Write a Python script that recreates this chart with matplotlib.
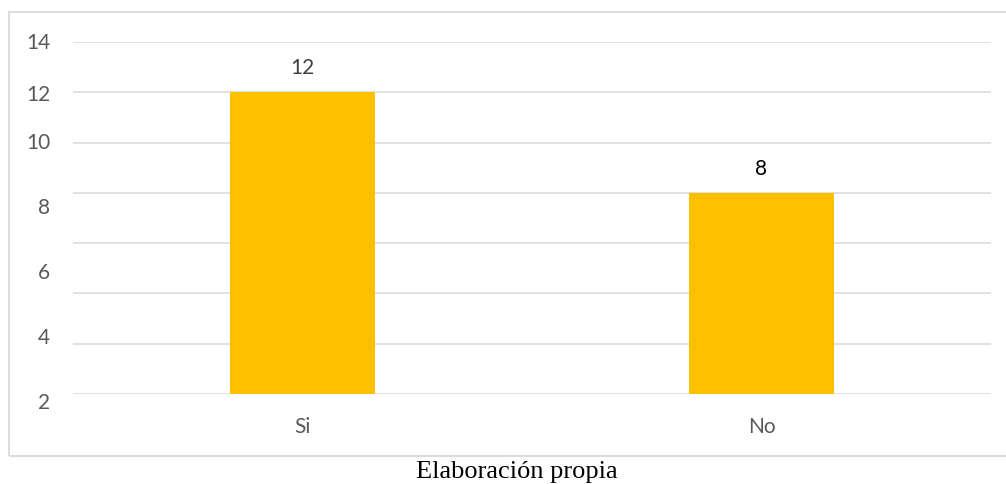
import matplotlib.pyplot as plt
import numpy as np
from matplotlib.patches import Rectangle

categories = ["Si", "No"]
values = [12, 8]
value_colors = ["#404040", "#000000"]

# y axis labels as printed beside the grid, and the height each one sits at
ytick_labels = ["14", "12", "10", "8", "6", "4", "2"]
ytick_pos = [14.0, 11.93, 10.02, 7.44, 4.85, 2.27, -0.32]

grid_vals = np.arange(0, 15, 2)

fig = plt.figure(figsize=(10.06, 4.85), dpi=100)
ax = fig.add_axes([73 / 1006, 1 - 395 / 485, 918 / 1006, 352 / 485])

x = np.arange(len(categories))
ax.bar(x, values, width=0.314, color="#FFC000", zorder=2)

for v in grid_vals:
    ax.axhline(v, color="#d9d9d9", lw=1.1, zorder=1)

for xi, v, c in zip(x, values, value_colors):
    ax.annotate(str(v), (xi, v), xytext=(0, 18), textcoords="offset points",
                ha="center", va="center", fontsize=15, family="Lato", color=c)

ax.set_xlim(-0.5, 1.5)
ax.set_ylim(0, 14)
ax.set_xticks(x, categories, fontsize=15, family="Lato", color="#595959")
ax.tick_params(axis="x", length=0, pad=16)
ax.set_yticks([])
for s in ax.spines.values():
    s.set_visible(False)

ytrans = ax.get_yaxis_transform()
for lab, p in zip(ytick_labels, ytick_pos):
    ax.text(-0.025, p, lab, transform=ytrans, ha="right", va="center",
            fontsize=15, family="Lato", color="#595959", clip_on=False)

# chart frame
fig.patches.append(Rectangle((9 / 1006, 1 - 457 / 485), 1.0, 444 / 485,
                             transform=fig.transFigure, fill=False,
                             edgecolor="#d9d9d9", lw=1.3))

fig.text(517 / 1006, 1 - 472 / 485, "Elaboración propia", ha="center",
         va="center", fontsize=19, family="Liberation Serif", color="black")

fig.savefig("out.png", dpi=100)
